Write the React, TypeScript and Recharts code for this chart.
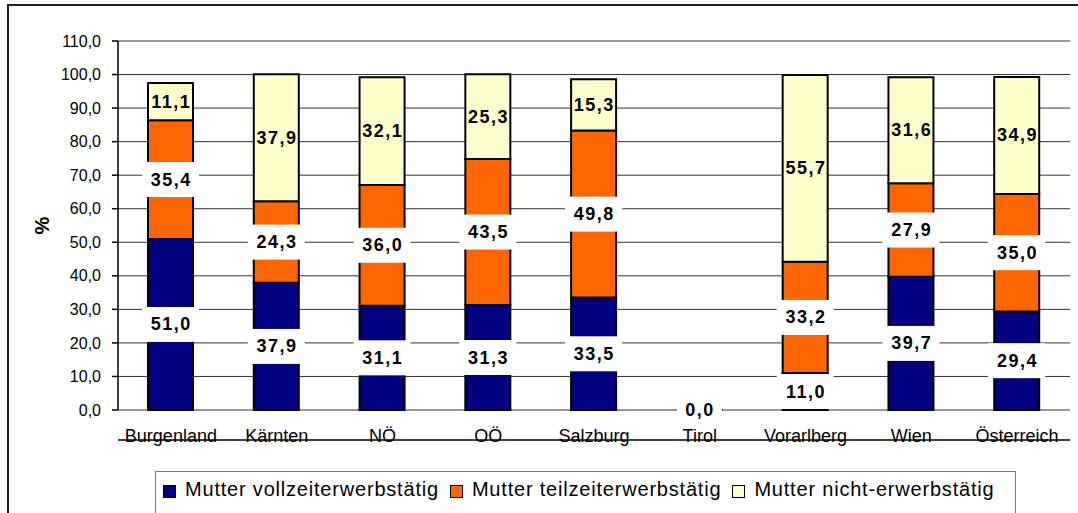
import React from 'react';
import {
  BarChart,
  Bar,
  XAxis,
  YAxis,
  CartesianGrid,
  Legend,
  LabelList,
  ReferenceLine,
} from 'recharts';

const CATEGORIES = ['Burgenland', 'Kärnten', 'NÖ', 'OÖ', 'Salzburg', 'Tirol', 'Vorarlberg', 'Wien', 'Österreich'];
const FULLTIME = [51.0, 37.9, 31.1, 31.3, 33.5, 0.0, 11.0, 39.7, 29.4];
const PARTTIME = [35.4, 24.3, 36.0, 43.5, 49.8, 0.0, 33.2, 27.9, 35.0];
const NOTWORKING = [11.1, 37.9, 32.1, 25.3, 15.3, 0.0, 55.7, 31.6, 34.9];
const SERIES_NAMES = ['Mutter vollzeiterwerbstätig', 'Mutter teilzeiterwerbstätig', 'Mutter nicht-erwerbstätig'];
const SERIES_COLORS = ['#000080', '#FF6600', '#FFFFCC'];
const Y_TICKS = [0, 10, 20, 30, 40, 50, 60, 70, 80, 90, 100, 110];
const SEP_TICKS = [0, 1, 2, 3, 4, 5, 6, 7, 8, 9];

const data = CATEGORIES.map((c, i) => ({
  name: c,
  full: FULLTIME[i],
  part: PARTTIME[i],
  none: NOTWORKING[i],
}));

const FONT = '"Liberation Sans", Arial, sans-serif';
const fmt = (v: any) => Number(v).toFixed(1).replace('.', ',');

const BoxLabel = (props: any) => {
  const { x, y, width, height, value, boxed } = props;
  if (x == null || y == null) return null;
  const cx = Number(x) + Number(width) / 2;
  const cy = Number(y) + Number(height) / 2;
  const text = fmt(value);
  const tw = text.split('').reduce((s: number, ch: string) => s + (ch === ',' ? 5 : 10) + 1.5, 0);
  return (
    <g>
      {boxed && <rect x={cx - tw / 2 - 8} y={cy - 17.5} width={tw + 16} height={35} fill="#ffffff" />}
      <text
        x={cx + 0.75}
        y={cy}
        textAnchor="middle"
        dominantBaseline="central"
        fontWeight="bold"
        fontSize={18}
        letterSpacing={1.5}
        fill="#000"
        fontFamily={FONT}
      >
        {text}
      </text>
    </g>
  );
};

const renderLegend = () => {
  return (
    <div
      style={{
        boxSizing: 'border-box',
        width: 861,
        height: 60,
        border: '1.5px solid #777',
        background: '#fff',
        paddingLeft: 7,
        paddingTop: 6,
        fontFamily: FONT,
        fontSize: 20,
        letterSpacing: 0.8,
        color: '#000',
      }}
    >
      <div style={{ display: 'flex', alignItems: 'center', height: 23 }}>
        {SERIES_NAMES.map((name, i) => (
          <div key={i} style={{ display: 'flex', alignItems: 'center', marginRight: 11 }}>
            <span
              style={{
                display: 'inline-block',
                width: 11,
                height: 11,
                background: SERIES_COLORS[i],
                border: '1px solid #000',
                marginRight: 9,
                position: 'relative',
                top: 2,
              }}
            />
            <span style={{ whiteSpace: 'nowrap', lineHeight: '23px' }}>{name}</span>
          </div>
        ))}
      </div>
    </div>
  );
};

const zeroMin = (v: any) => (Number(v) === 0 ? 0.01 : 0);

export default function App() {
  return (
    <div
      style={{
        position: 'fixed',
        left: 0,
        top: 0,
        width: 1078,
        height: 513,
        overflow: 'hidden',
        background: '#fff',
        fontFamily: FONT,
      }}
    >
      <div
        style={{
          position: 'absolute',
          left: 7,
          top: 4,
          width: 1090,
          height: 530,
          border: '2px solid #222',
          boxSizing: 'border-box',
        }}
      />
      <div style={{ position: 'absolute', left: 0, top: 0 }}>
        <BarChart
          width={1078}
          height={513}
          data={data}
          margin={{ top: 41, right: 8, bottom: 72, left: 8 }}
          style={{ fontFamily: FONT }}
        >
          <CartesianGrid horizontal vertical={false} stroke="#333" strokeWidth={1} />
          <XAxis
            xAxisId="sep"
            type="number"
            domain={[0, 9]}
            ticks={SEP_TICKS}
            tick={false}
            tickLine={{ stroke: '#000', strokeWidth: 1.5 }}
            tickSize={6}
            axisLine={{ stroke: '#000', strokeWidth: 1.5 }}
            height={1}
            allowDataOverflow
          />
          <XAxis
            dataKey="name"
            axisLine={false}
            tickLine={false}
            tickSize={6}
            tickMargin={13}
            interval={0}
            height={30}
            tick={{ fill: '#000', fontSize: 18, fontFamily: FONT }}
          />
          <YAxis
            domain={[0, 110]}
            ticks={Y_TICKS}
            interval={0}
            width={110}
            tickFormatter={fmt}
            tickSize={6}
            tickMargin={11}
            tick={{ fill: '#000', fontSize: 16, fontFamily: FONT }}
            axisLine={{ stroke: '#000', strokeWidth: 1.5 }}
            tickLine={{ stroke: '#000', strokeWidth: 1.5 }}
            label={{
              content: (p: any) => {
                const vb = p.viewBox || {};
                const lx = vb.x + 34;
                const ly = vb.y + vb.height / 2;
                return (
                  <text
                    x={lx}
                    y={ly}
                    transform={`rotate(-90, ${lx}, ${ly})`}
                    textAnchor="middle"
                    dominantBaseline="central"
                    fontWeight="bold"
                    fontSize={20}
                    fontFamily={FONT}
                    fill="#000"
                  >
                    %
                  </text>
                );
              },
            }}
          />
          <YAxis
            yAxisId="frame"
            orientation="right"
            domain={[0, 110]}
            width={0}
            tick={false}
            tickLine={false}
            axisLine={{ stroke: '#999', strokeWidth: 2 }}
          />
          <ReferenceLine y={110} stroke="#999" strokeWidth={2} />
          <Legend
            layout="horizontal"
            verticalAlign="middle"
            align="center"
            wrapperStyle={{ left: 155, top: 471, width: 861, height: 60 }}
            content={renderLegend}
          />
          <Bar
            dataKey="full"
            name={SERIES_NAMES[0]}
            stackId="a"
            fill={SERIES_COLORS[0]}
            stroke="#000"
            strokeWidth={2}
            barSize={45}
            minPointSize={zeroMin as any}
            isAnimationActive={false}
          >
            <LabelList dataKey="full" content={(p: any) => <BoxLabel {...p} boxed />} />
          </Bar>
          <Bar
            dataKey="part"
            name={SERIES_NAMES[1]}
            stackId="a"
            fill={SERIES_COLORS[1]}
            stroke="#000"
            strokeWidth={2}
            barSize={45}
            minPointSize={zeroMin as any}
            isAnimationActive={false}
          >
            <LabelList dataKey="part" content={(p: any) => <BoxLabel {...p} boxed />} />
          </Bar>
          <Bar
            dataKey="none"
            name={SERIES_NAMES[2]}
            stackId="a"
            fill={SERIES_COLORS[2]}
            stroke="#000"
            strokeWidth={2}
            barSize={45}
            isAnimationActive={false}
          >
            <LabelList dataKey="none" content={(p: any) => <BoxLabel {...p} />} />
          </Bar>
        </BarChart>
      </div>
    </div>
  );
}
